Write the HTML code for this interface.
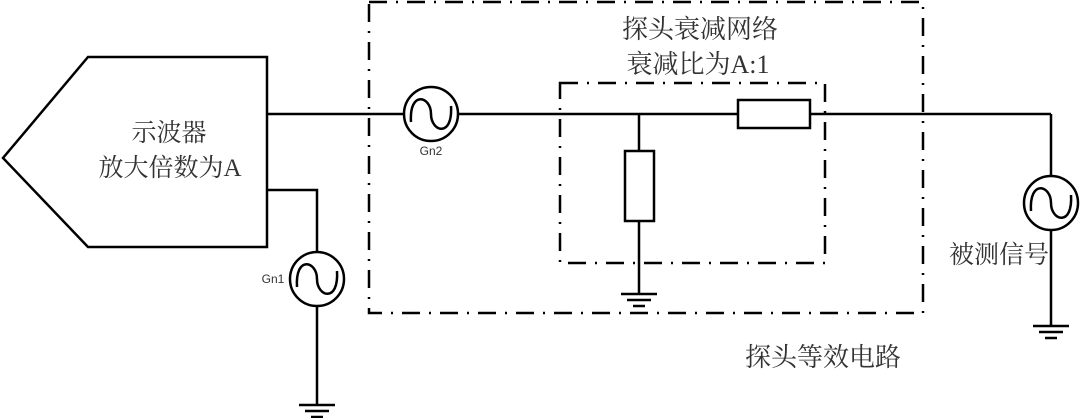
<!DOCTYPE html>
<html><head><meta charset="utf-8"><style>
html,body{margin:0;padding:0;background:#fff;}
svg{display:block;}
text{font-family:"Liberation Serif","Noto Serif CJK SC",serif;fill:#333;}
.s{font-family:"Liberation Sans",sans-serif;font-size:12px;fill:#333;}
</style></head><body>
<svg width="1080" height="418" viewBox="0 0 1080 418" xmlns="http://www.w3.org/2000/svg">
<g stroke="#000" stroke-width="2.5" fill="none">
<polygon points="88,57 267,57 267,247 88,247 3,158"/>
<line x1="267" y1="114" x2="404" y2="114"/>
<line x1="458" y1="114" x2="738" y2="114"/>
<line x1="810" y1="114" x2="1051" y2="114"/>
<line x1="1051" y1="114" x2="1051" y2="177"/>
<line x1="1051" y1="230" x2="1051" y2="326"/>
<polyline points="267,190 317,190 317,252"/>
<line x1="317" y1="306" x2="317" y2="405"/>
<line x1="639" y1="114" x2="639" y2="151"/>
<line x1="639" y1="221" x2="639" y2="294"/>
<rect x="625" y="151" width="29" height="70"/>
<rect x="738" y="100" width="72" height="28"/>
<circle cx="431" cy="114" r="27"/>
<circle cx="317" cy="279" r="27"/>
<circle cx="1051" cy="203" r="27"/>
</g>
<g stroke="#000" stroke-width="2.5" fill="none">
<path d="M411,122 C409,90 431,96 431,114 C431,132 453,138 451,106"/>
<path d="M297,287 C295,255 317,261 317,279 C317,297 339,303 337,271"/>
<path d="M1031,211 C1029,179 1051,185 1051,203 C1051,221 1073,227 1071,195"/>
</g>
<g stroke="#000" stroke-width="2.5">
<line x1="299" y1="405" x2="335" y2="405"/><line x1="305" y1="411" x2="329" y2="411"/><line x1="311" y1="417" x2="323" y2="417"/>
<line x1="621" y1="294" x2="657" y2="294"/><line x1="627" y1="300" x2="651" y2="300"/><line x1="633" y1="306" x2="645" y2="306"/>
<line x1="1033" y1="326" x2="1069" y2="326"/><line x1="1039" y1="332" x2="1063" y2="332"/><line x1="1045" y1="338" x2="1057" y2="338"/>
</g>
<g stroke="#000" stroke-width="2.5" fill="none" stroke-dasharray="18 9 2 9">
<rect x="369" y="2" width="554" height="311"/>
<rect x="560" y="83" width="265" height="180"/>
</g>
<text x="169" y="141" font-size="25" text-anchor="middle">示波器</text>
<text x="170" y="176" font-size="25" text-anchor="middle">放大倍数为A</text>
<text x="700" y="38" font-size="26" text-anchor="middle">探头衰减网络</text>
<text x="698" y="73" font-size="26" text-anchor="middle">衰减比为A:1</text>
<text x="999" y="263" font-size="25" text-anchor="middle">被测信号</text>
<text x="823" y="366" font-size="26" text-anchor="middle">探头等效电路</text>
<text class="s" x="431" y="155" text-anchor="middle">Gn2</text>
<text class="s" x="273" y="283" text-anchor="middle">Gn1</text>
</svg>
</body></html>
